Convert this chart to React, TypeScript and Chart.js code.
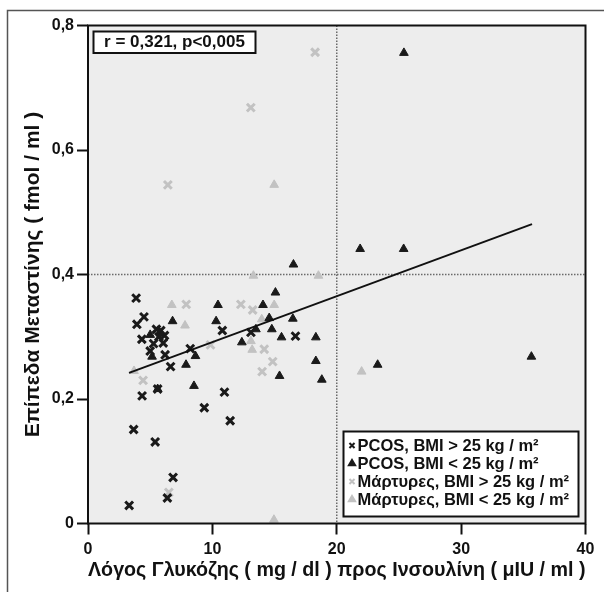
import React, { useEffect, useRef } from "react";
import { Chart, registerables } from "chart.js";
import { drawPoint } from "chart.js/helpers";

Chart.register(...registerables);

// ---- data ----
const pcosOverweight: [number, number][] = [
  [3.87, 0.362], [3.93, 0.32], [4.5, 0.332], [4.33, 0.296], [3.67, 0.151],
  [3.31, 0.029], [4.35, 0.205], [5.4, 0.131], [5.6, 0.216], [6.84, 0.074],
  [6.38, 0.041], [6.64, 0.252], [9.35, 0.186], [10.97, 0.211], [11.43, 0.165],
  [10.8, 0.31], [13.1, 0.307], [16.68, 0.301], [8.22, 0.281], [6.2, 0.271],
  [5.5, 0.312], [5.85, 0.31], [6.15, 0.302], [6.05, 0.29], [5.27, 0.289],
  [5.0, 0.277], [5.7, 0.3],
];
const pcosNormal: [number, number][] = [
  [25.4, 0.756], [21.88, 0.441], [25.38, 0.441], [16.52, 0.416], [15.07, 0.371],
  [10.45, 0.351], [14.07, 0.351], [10.3, 0.325], [6.8, 0.325], [16.47, 0.329],
  [14.57, 0.33], [14.78, 0.312], [13.5, 0.312], [15.56, 0.299], [18.32, 0.299],
  [12.37, 0.291], [8.64, 0.269], [7.88, 0.255], [18.32, 0.261], [23.29, 0.255],
  [35.65, 0.268], [15.4, 0.237], [18.8, 0.231], [8.52, 0.221], [5.6, 0.216],
  [5.0, 0.303], [5.15, 0.268], [5.85, 0.305],
];
const controlsOverweight: [number, number][] = [
  [18.26, 0.757], [13.09, 0.668], [6.42, 0.544], [7.9, 0.352], [12.29, 0.352],
  [13.24, 0.343], [9.85, 0.287], [14.17, 0.28], [14.85, 0.26], [14.0, 0.244],
  [4.43, 0.23], [6.5, 0.05],
];
const controlsNormal: [number, number][] = [
  [14.97, 0.544], [13.3, 0.398], [18.53, 0.398], [6.74, 0.351], [14.97, 0.351],
  [7.8, 0.318], [13.97, 0.328], [13.2, 0.279], [3.7, 0.245], [22.0, 0.244],
  [14.95, 0.006], [13.1, 0.293],
];
const regressionLine: [number, number][] = [[3.3, 0.242], [35.7, 0.481]];

const seriesLabels = [
  "PCOS, BMI > 25 kg / m²",
  "PCOS, BMI < 25 kg / m²",
  "Μάρτυρες, BMI > 25 kg / m²",
  "Μάρτυρες, BMI < 25 kg / m²",
];
const xTickLabels = ["0", "10", "20", "30", "40"];
const yTickLabels = ["0", "0,2", "0,4", "0,6", "0,8"];
const xTitle = "Λόγος Γλυκόζης ( mg / dl ) προς Ινσουλίνη ( μIU / ml )";
const yTitle = "Επίπεδα Μεταστίνης ( fmol / ml )";
const statsText = "r = 0,321, p<0,005";
const refX = 20;
const refY = 0.4;

const FONT = "'Liberation Sans', Arial, sans-serif";
const DARK = "#1a1a1a";
const GREY = "#c2c2c2";

const toPts = (a: [number, number][]) => a.map(([x, y]) => ({ x, y }));

const decorPlugin = {
  id: "decor",
  beforeDraw(chart: any) {
    const { ctx, chartArea: a } = chart;
    ctx.save();
    ctx.fillStyle = "#ffffff";
    ctx.fillRect(0, 0, chart.width, chart.height);
    ctx.fillStyle = "#ededed";
    ctx.fillRect(a.left, a.top, a.right - a.left, a.bottom - a.top);
    // outer picture frame
    ctx.strokeStyle = "#555";
    ctx.lineWidth = 1.5;
    ctx.beginPath();
    ctx.moveTo(7.5, chart.height);
    ctx.lineTo(7.5, 10.5);
    ctx.lineTo(chart.width, 10.5);
    ctx.stroke();
    // dotted reference lines
    const px = chart.scales.x.getPixelForValue(refX);
    const py = chart.scales.y.getPixelForValue(refY);
    ctx.setLineDash([1.5, 1.5]);
    ctx.strokeStyle = "#6a6a6a";
    ctx.lineWidth = 1.5;
    ctx.beginPath();
    ctx.moveTo(px, a.top);
    ctx.lineTo(px, a.bottom);
    ctx.moveTo(a.left, py);
    ctx.lineTo(a.right, py);
    ctx.stroke();
    ctx.restore();
  },
  afterDraw(chart: any) {
    const { ctx, chartArea: a } = chart;
    ctx.save();
    // plot frame
    ctx.strokeStyle = "#111";
    ctx.lineWidth = 2;
    ctx.strokeRect(a.left, a.top, a.right - a.left, a.bottom - a.top);

    // stats box
    const bx = a.left + 5.5, by = a.top + 6, bw = 162, bh = 21.5;
    ctx.fillStyle = "#fff";
    ctx.fillRect(bx, by, bw, bh);
    ctx.lineWidth = 2;
    ctx.strokeRect(bx, by, bw, bh);
    ctx.fillStyle = "#111";
    ctx.font = `bold 17px ${FONT}`;
    ctx.textAlign = "center";
    ctx.textBaseline = "middle";
    ctx.fillText(statsText, bx + bw / 2, by + bh / 2 + 0.5);

    // legend box
    const lw = 235, lh = 85;
    const lx = a.right - 242, ly = a.bottom - 92;
    ctx.fillStyle = "#fff";
    ctx.fillRect(lx, ly, lw, lh);
    ctx.strokeStyle = "#111";
    ctx.lineWidth = 2;
    ctx.strokeRect(lx, ly, lw, lh);
    const items = chart.data.datasets.filter((d: any) => d.showInLegend);
    items.forEach((d: any, i: number) => {
      const cy = ly + 14 + i * 18;
      const mx = lx + 8.5;
      ctx.save();
      ctx.strokeStyle = d.borderColor;
      ctx.fillStyle = d.backgroundColor;
      drawPoint(ctx, { pointStyle: d.pointStyle, radius: 3.6, borderWidth: d.pointStyle === "crossRot" ? 2 : 1, rotation: 0 }, mx, cy);
      ctx.restore();
      ctx.fillStyle = "#111";
      ctx.font = `bold 16.5px ${FONT}`;
      ctx.textAlign = "left";
      ctx.textBaseline = "middle";
      ctx.fillText(d.label, lx + 14, cy + 0.5, lw - 17);
    });
    ctx.restore();
  },
};

export default function App() {
  const ref = useRef<HTMLCanvasElement | null>(null);
  useEffect(() => {
    if (!ref.current) return;
    const tickFont = { family: FONT, size: 16, weight: "bold" as const };
    const chart = new Chart(ref.current, {
      type: "scatter",
      data: {
        datasets: [
          {
            type: "line",
            label: "regression",
            data: toPts(regressionLine),
            borderColor: "#111",
            borderWidth: 2,
            pointRadius: 0,
            fill: false,
          } as any,
          {
            label: seriesLabels[0],
            data: toPts(pcosOverweight),
            pointStyle: "crossRot",
            pointRadius: 5.5,
            borderWidth: 3,
            borderColor: DARK,
            backgroundColor: DARK,
            showInLegend: true,
          } as any,
          {
            label: seriesLabels[1],
            data: toPts(pcosNormal),
            pointStyle: "triangle",
            pointRadius: 5,
            borderWidth: 1,
            borderColor: DARK,
            backgroundColor: DARK,
            showInLegend: true,
          } as any,
          {
            label: seriesLabels[2],
            data: toPts(controlsOverweight),
            pointStyle: "crossRot",
            pointRadius: 5.5,
            borderWidth: 3,
            borderColor: GREY,
            backgroundColor: GREY,
            showInLegend: true,
          } as any,
          {
            label: seriesLabels[3],
            data: toPts(controlsNormal),
            pointStyle: "triangle",
            pointRadius: 5,
            borderWidth: 1,
            borderColor: GREY,
            backgroundColor: GREY,
            showInLegend: true,
          } as any,
        ],
      },
      options: {
        animation: false,
        responsive: false,
        events: [],
        layout: { padding: { left: 0, top: 25.5, right: 18.5, bottom: 0 } },
        plugins: { legend: { display: false }, tooltip: { enabled: false } },
        scales: {
          x: {
            type: "linear",
            min: 0,
            max: 40,
            afterFit: (s: any) => { s.height = 68.5; },
            afterBuildTicks: (s: any) => { s.ticks = xTickLabels.map((t) => ({ value: Number(t) })); },
            ticks: {
              callback: (_v: any, i: number) => xTickLabels[i],
              font: tickFont,
              color: "#111",
              padding: 5,
              maxRotation: 0,
            },
            grid: { drawOnChartArea: false, drawTicks: true, tickLength: 11, tickWidth: 2, tickColor: "#111", color: "#111" },
            border: { display: false },
            title: { display: true, text: xTitle, font: { family: FONT, size: 20.5, weight: "bold" }, color: "#111", padding: { top: 0, bottom: 9.7 } },
          },
          y: {
            type: "linear",
            min: 0,
            max: 0.8,
            afterFit: (s: any) => { s.width = 88; },
            afterBuildTicks: (s: any) => { s.ticks = yTickLabels.map((t) => ({ value: Number(t.replace(",", ".")) })); },
            ticks: {
              callback: (_v: any, i: number) => yTickLabels[i],
              font: tickFont,
              color: "#111",
              padding: 3,
            },
            grid: { drawOnChartArea: false, drawTicks: true, tickLength: 11, tickWidth: 2, tickColor: "#111", color: "#111" },
            border: { display: false },
            title: { display: true, text: yTitle, font: { family: FONT, size: 21, weight: "bold" }, color: "#111", padding: { top: 20.4, bottom: 0 } },
          },
        },
      },
      plugins: [decorPlugin as any],
    });
    return () => chart.destroy();
  }, []);
  return (
    <div style={{ position: "absolute", left: 0, top: 0, width: 604, height: 592 }}>
      <canvas ref={ref} width={604} height={592} style={{ width: 604, height: 592, display: "block" }} />
    </div>
  );
}
